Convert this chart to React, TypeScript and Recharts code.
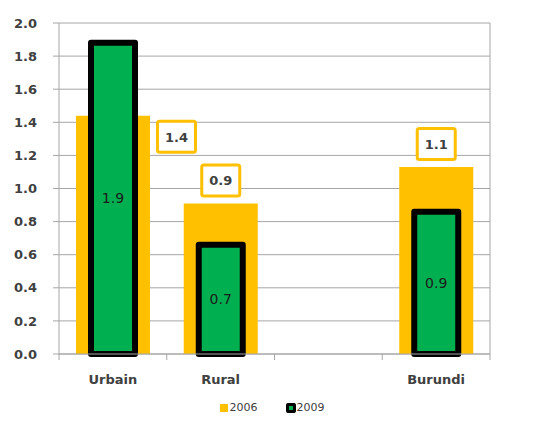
import React from "react";
import { BarChart, Bar, XAxis, YAxis, CartesianGrid, Legend, LabelList } from "recharts";

const categories = ["Urbain", "Rural", " ", "Burundi"];
const values2006 = [1.44, 0.91, null, 1.13];
const values2009 = [1.88, 0.66, null, 0.86];
const yTicks = [0, 0.2, 0.4, 0.6, 0.8, 1.0, 1.2, 1.4, 1.6, 1.8, 2.0];

const data = categories.map((name, i) => ({
  name,
  y2006: values2006[i],
  y2009: values2009[i],
}));

const YELLOW = "#FFC000";
const GREEN = "#00B050";
const GRID = "#a6a6a6";
const TEXT = "#404040";
const FONT = "'DejaVu Sans', sans-serif";

const W = 538;
const H = 423;
const LEFT_W = 59;
const RIGHT_W = 48;
const BAND = (W - LEFT_W - RIGHT_W) / categories.length;

function CategoryTick(props: any) {
  const { x, y, payload, index } = props;
  const isLast = index === categories.length - 1;
  return (
    <g>
      <line x1={x - BAND / 2} x2={x - BAND / 2} y1={y - 8} y2={y - 2} stroke={GRID} />
      {isLast && <line x1={x + BAND / 2} x2={x + BAND / 2} y1={y - 8} y2={y - 2} stroke={GRID} />}
      <text x={x} y={y + 22} textAnchor="middle" fontSize={13} fontWeight="bold" fill={TEXT} fontFamily={FONT}>
        {payload.value}
      </text>
    </g>
  );
}

function BoxLabel(props: any) {
  const { x, y, width, value, index } = props;
  if (value == null) return null;
  const bw = 41;
  const bh = 34;
  let bx: number;
  let by: number;
  const other = values2009[index];
  if (other != null && other > value) {
    // label would sit under the 2009 bar, so move it to the side
    bx = x + width + 6;
    by = y + 4;
  } else {
    bx = x + width / 2 - bw / 2;
    by = y - 6 - bh;
  }
  return (
    <g>
      <rect x={bx + 1.5} y={by + 1.5} width={bw - 3} height={bh - 3} fill="#fff" stroke={YELLOW} strokeWidth={3} rx={2} />
      <text x={bx + bw / 2} y={by + bh / 2 + 5} textAnchor="middle" fontSize={13} fontWeight="bold" fill={TEXT} fontFamily={FONT}>
        {Number(value).toFixed(1)}
      </text>
    </g>
  );
}

function LegendContent() {
  return (
    <div style={{ display: "flex", justifyContent: "center", alignItems: "center", fontFamily: FONT, fontSize: 11, color: TEXT, paddingTop: 11, paddingLeft: 6 }}>
      <span style={{ display: "inline-block", width: 8, height: 8, background: YELLOW, marginRight: 2 }} />
      <span style={{ marginRight: 28 }}>2006</span>
      <span style={{ display: "inline-block", width: 4, height: 4, background: GREEN, border: "3px solid #000", borderRadius: 2, marginRight: 1 }} />
      <span>2009</span>
    </div>
  );
}

export default function App() {
  const tickStyle = { fill: TEXT, fontSize: 13, fontWeight: "bold", fontFamily: FONT };
  return (
    <div style={{ position: "absolute", left: 0, top: 0, background: "#fff" }}>
      <BarChart width={W} height={H} data={data} margin={{ top: 23, right: 0, bottom: 0, left: 0 }}>
        <CartesianGrid vertical={false} stroke={GRID} xAxisId="a" yAxisId="left" />
        <XAxis xAxisId="a" dataKey="name" stroke={GRID} tickLine={false} tick={<CategoryTick />} height={36} interval={0} />
        <XAxis xAxisId="b" dataKey="name" hide />
        <YAxis
          yAxisId="left"
          domain={[0, 2]}
          ticks={yTicks}
          width={LEFT_W}
          stroke={GRID}
          tickSize={6}
          tickMargin={16}
          tickFormatter={(v: number) => v.toFixed(1)}
          tick={tickStyle}
          interval={0}
        />
        <YAxis
          yAxisId="right"
          orientation="right"
          domain={[0, 2]}
          ticks={yTicks}
          width={RIGHT_W}
          stroke={GRID}
          tickSize={5}
          tickMargin={14}
          tickFormatter={(v: number) => v.toFixed(1)}
          tick={tickStyle}
          interval={0}
        />
        <Legend content={<LegendContent />} verticalAlign="bottom" height={33} />
        <Bar xAxisId="a" yAxisId="left" dataKey="y2006" name="2006" fill={YELLOW} barSize={74} isAnimationActive={false}>
          <LabelList dataKey="y2006" content={<BoxLabel />} />
        </Bar>
        <Bar
          xAxisId="b"
          yAxisId="left"
          dataKey="y2009"
          name="2009"
          fill={GREEN}
          stroke="#000"
          strokeWidth={6}
          strokeLinejoin="round"
          barSize={44}
          isAnimationActive={false}
        >
          <LabelList
            dataKey="y2009"
            position="center"
            formatter={(v: any) => (v == null ? "" : Number(v).toFixed(1))}
            fill="#1a1a1a"
            fontSize={14}
            fontFamily={FONT}
          />
        </Bar>
      </BarChart>
    </div>
  );
}
